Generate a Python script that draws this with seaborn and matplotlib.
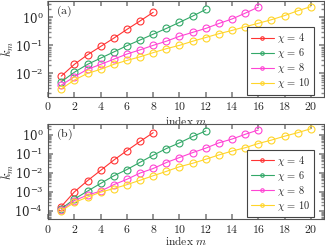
import numpy as np
import pandas as pd
import matplotlib
matplotlib.use('Agg')
import matplotlib.pyplot as plt
import matplotlib.ticker as mticker
import seaborn as sns

# ---- data ----
chi_values = [4, 6, 8, 10]
colors = ['#ff3333', '#33a868', '#ff44d4', '#ffd52a']

# panel (a)
ka_chi4 = [0.008, 0.021, 0.046, 0.091, 0.18, 0.37, 0.74, 1.5]
ka_chi6 = [0.005, 0.011, 0.021, 0.035, 0.058, 0.097, 0.155, 0.25, 0.40, 0.66, 1.1, 1.9]
ka_chi8 = [0.0038, 0.0076, 0.014, 0.021, 0.032, 0.049, 0.069, 0.10, 0.14, 0.21,
           0.29, 0.40, 0.60, 0.87, 1.4, 2.3]
ka_chi10 = [0.0028, 0.0058, 0.010, 0.014, 0.021, 0.029, 0.039, 0.055, 0.076, 0.10,
            0.14, 0.19, 0.26, 0.34, 0.46, 0.61, 0.82, 1.15, 1.7, 2.4]

# panel (b)
kb_chi4 = [1.7e-4, 1.0e-3, 3.9e-3, 0.0135, 0.047, 0.148, 0.45, 1.3]
kb_chi6 = [1.3e-4, 4.2e-4, 1.1e-3, 2.8e-3, 7.0e-3, 0.015, 0.036, 0.085, 0.19, 0.38, 0.82, 1.6]
kb_chi8 = [1.1e-4, 3.5e-4, 6.8e-4, 1.1e-3, 2.4e-3, 4.6e-3, 9.8e-3, 0.017, 0.035, 0.064,
           0.116, 0.20, 0.38, 0.60, 1.07, 1.8]
kb_chi10 = [1.0e-4, 2.8e-4, 5.3e-4, 9.7e-4, 1.5e-3, 2.4e-3, 4.1e-3, 7.1e-3, 0.012, 0.021,
            0.032, 0.052, 0.088, 0.14, 0.21, 0.35, 0.53, 0.85, 1.3, 2.1]

panels = [
    ('(a)', [ka_chi4, ka_chi6, ka_chi8, ka_chi10], (10 ** -2.84, 10 ** 0.58), -0.185),
    ('(b)', [kb_chi4, kb_chi6, kb_chi8, kb_chi10], (10 ** -4.45, 10 ** 0.57), -0.165),
]

# ---- style ----
sns.set_theme(style='ticks')
plt.rcParams['font.family'] = ['DejaVu Serif']
plt.rcParams['mathtext.fontset'] = 'cm'
plt.rcParams['font.size'] = 8

fig = plt.figure(figsize=(3.25, 2.48), dpi=100)
ax_top = fig.add_axes([0.148, 0.609, 0.849, 0.387])
ax_bot = fig.add_axes([0.148, 0.115, 0.849, 0.385])

for ax, (tag, series, ylim, xlab_y) in zip([ax_top, ax_bot], panels):
    for chi, k, c in zip(chi_values, series, colors):
        m = np.arange(1, len(k) + 1)
        sns.lineplot(x=m, y=k, ax=ax, color=c, linewidth=0.8,
                     marker='o', markersize=5, markerfacecolor='none',
                     markeredgecolor=c, markeredgewidth=0.8,
                     label=r'$\chi\,=\,%d$' % chi)
    ax.set_yscale('log')
    ax.set_xlim(0, 21)
    ax.set_ylim(*ylim)
    ax.set_xticks([0, 2, 4, 6, 8, 10, 12, 14, 16, 18, 20])
    ax.xaxis.set_major_formatter(mticker.FuncFormatter(lambda v, p: r'$%d$' % v))
    ax.yaxis.set_major_locator(mticker.LogLocator(base=10, numticks=10))
    ax.yaxis.set_minor_locator(mticker.LogLocator(base=10, subs=np.arange(2, 10), numticks=20))
    ax.yaxis.set_minor_formatter(mticker.NullFormatter())
    ax.tick_params(which='both', direction='in', top=True, right=True,
                   color='#888888', labelsize=8.5)
    ax.tick_params(axis='y', pad=3.5)
    ax.tick_params(axis='x', pad=2.5)
    ax.tick_params(which='major', length=3.5)
    ax.tick_params(which='minor', length=2)
    for s in ax.spines.values():
        s.set_color('#555555')
        s.set_linewidth(0.8)
    ax.set_xlabel(r'$\mathrm{index}\ m$', fontsize=8.3)
    ax.set_ylabel(r'$k_m$', fontsize=9)
    ax.xaxis.set_label_coords(0.5, xlab_y)
    ax.yaxis.set_label_coords(-0.118, 0.5)
    ax.text(0.03, 0.97, r'$\mathrm{%s}$' % tag, transform=ax.transAxes,
            ha='left', va='top', fontsize=8.5)
    leg = ax.legend(loc='lower right', fontsize=7.5, markerscale=0.5,
                    handlelength=2.2, handletextpad=0.3, labelspacing=0.1,
                    borderpad=0.4, fancybox=False, framealpha=1,
                    borderaxespad=0, bbox_to_anchor=(0.965, 0.025))
    leg.get_frame().set_edgecolor('#444444')
    leg.get_frame().set_linewidth(0.8)

fig.savefig('out.png', dpi=100)
